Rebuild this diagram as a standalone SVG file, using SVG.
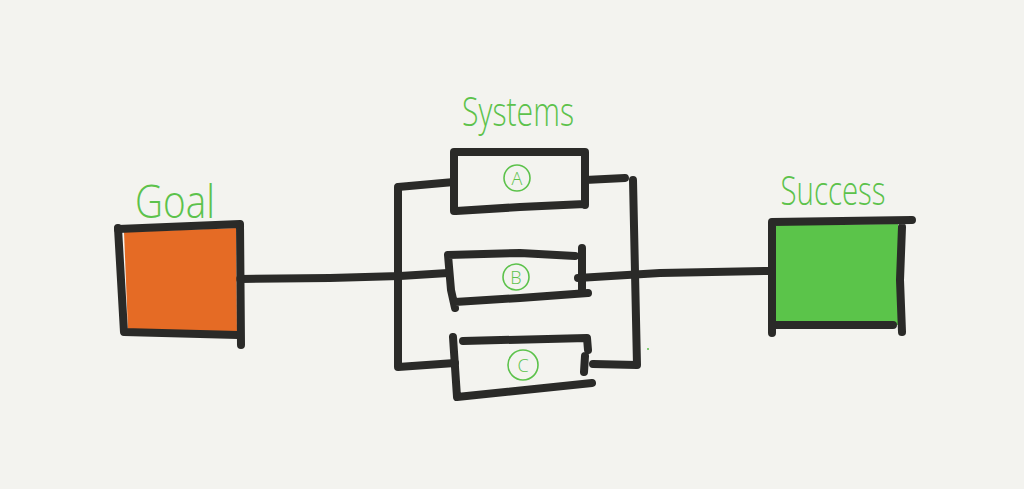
<svg xmlns="http://www.w3.org/2000/svg" width="1024" height="489" viewBox="0 0 1024 489">
<style>
.ln{fill:none;stroke:#2a2a28;stroke-width:8;stroke-linecap:round;stroke-linejoin:round}
.lbl{fill:#5cc24b;font-family:"Open Sans","Liberation Sans",sans-serif;font-weight:300}
.circ{fill:none;stroke:#5cc24b;stroke-width:1.6}
.let{fill:#5cc24b;font-family:"Open Sans","Liberation Sans",sans-serif;font-size:18px;font-weight:300;text-anchor:middle}
</style>
<rect width="1024" height="489" fill="#f3f3ef"/>
<g id="connectors">
<path class="ln" d="M240 279 L330 278 L400 276 L448 273"/>
<path class="ln" d="M578 278 L660 273 L768 271"/>
<path class="ln" d="M454 182 L398 187 L398 367 L455 363"/>
<path class="ln" d="M585 180 L625 178"/>
<path class="ln" d="M633 180 L637 365 L593 364"/>
</g>
<g id="goal">
<path d="M124 232 L236 228 L237 334 L128 330 Z" fill="#e56b25"/>
<path class="ln" d="M118 228 L124 332 L238 335"/>
<path class="ln" d="M118 229 L240 224 L241 345"/>
<text class="lbl" x="175" y="218" font-size="46" text-anchor="middle" textLength="80" lengthAdjust="spacingAndGlyphs">Goal</text>
</g>
<g id="systems-label">
<text class="lbl" x="518" y="126" font-size="40" text-anchor="middle" textLength="112" lengthAdjust="spacingAndGlyphs">Systems</text>
</g>
<g id="sysA">
<path class="ln" d="M454 152 L454 211 M454 152 L585 152 L585 205 M456 211 L520 207 L585 204"/>
<circle class="circ" cx="517" cy="178" r="13"/>
<text class="let" x="517" y="185">A</text>
</g>
<g id="sysB">
<path class="ln" d="M448 255 L520 253 L575 256 M448 255 L451 290 L455 308 M455 302 L520 298 L588 293 M582 248 L582 293"/>
<circle class="circ" cx="516" cy="277" r="13"/>
<text class="let" x="516" y="284">B</text>
</g>
<g id="sysC">
<path class="ln" d="M453 337 L457 397 M463 341 L587 338 L588 350 M585 356 L584 372 M457 397 L592 383"/>
<circle class="circ" cx="523" cy="365" r="15"/>
<text class="let" x="523" y="372">C</text>
</g>
<circle cx="648" cy="349" r="1" fill="#5cc24b"/>
<g id="success">
<path d="M775 225 L898 224 L898 325 L775 325 Z" fill="#5bc44a"/>
<path class="ln" d="M772 222 L912 220 M772 222 L772 333 M772 325 L893 325 M902 227 L900 280 L902 332"/>
<text class="lbl" x="833" y="205" font-size="40" text-anchor="middle" textLength="105" lengthAdjust="spacingAndGlyphs">Success</text>
</g>
</svg>
